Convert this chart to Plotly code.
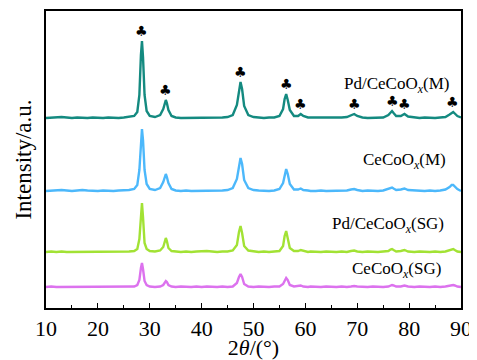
import plotly.graph_objects as go

# 2-theta grid (degrees)
two_theta = [10, 11, 12, 13, 14, 15, 16, 17, 18, 19, 20, 21, 22, 23, 24, 25, 26,
             27, 27.6, 28.0, 28.3, 28.5, 28.7, 29.0, 29.4, 30, 31,
             32, 32.6, 32.9, 33.1, 33.3, 33.6, 34.2,
             35, 36, 37, 38, 39, 40, 41, 42, 43, 44, 45,
             46, 46.8, 47.2, 47.5, 47.8, 48.2, 49,
             50, 51, 52, 53, 54, 55,
             55.7, 56.0, 56.3, 56.6, 57.0, 57.8,
             58.6, 59.1, 59.6, 60.5,
             61, 62, 63, 64, 65, 66, 67, 68,
             68.8, 69.4, 70.0,
             71, 72, 73, 74, 75,
             76.0, 76.4, 76.7, 77.0, 77.5,
             78.4, 79.1, 79.8,
             81, 82, 83, 84, 85, 86, 87,
             87.8, 88.2, 88.5, 88.8, 89.3, 90]

pd_m = [1, 1.5, 2, 2, 1.5, 1, 1.5, 1, 1, 1.5, 1, 1, 1.5, 1, 1, 1.5, 2,
        3, 7, 24, 64, 78, 62, 24, 8, 3, 2,
        4, 10, 17, 19, 16, 9, 3,
        1.5, 1, 1, 1, 1.5, 1, 1.5, 1, 1, 1.5, 2,
        4, 14, 30, 37, 30, 13, 4,
        2, 1.5, 1, 1.5, 1.5, 3,
        10, 20, 25, 19, 9, 3,
        3, 5, 3, 1.5,
        1.5, 1, 1, 1.5, 1, 1, 1.5, 2,
        3.5, 5, 3,
        1.5, 1, 1, 1.5, 1.5,
        4, 7, 8, 6, 3,
        3, 5, 2.5,
        1.5, 1, 1.5, 1, 1, 1.5, 2,
        4.5, 6.5, 7, 5.5, 3, 1.5]

ce_m = [1, 1.5, 1.5, 2, 1.5, 1, 1.5, 2, 1.5, 1, 1, 1.5, 1, 1, 1.5, 1.5, 2,
        3, 7, 22, 52, 63, 52, 22, 8, 3, 2,
        4, 10, 16, 18, 15, 9, 3,
        1.5, 1, 1.5, 1, 1, 1.5, 1, 1, 1.5, 1.5, 2,
        4, 13, 28, 34, 28, 12, 4,
        2, 1.5, 1, 1, 1.5, 3,
        9, 18, 23, 18, 8, 2.5,
        2.5, 3.5, 2, 1.5,
        1, 1, 1.5, 1, 1, 1.5, 1, 1.5,
        2.5, 3, 2,
        1, 1.5, 1, 1, 1.5,
        3, 4, 4.5, 3.5, 2,
        2.5, 3.5, 2,
        1.5, 1, 1, 1.5, 1, 1.5, 2.5,
        5, 7, 7, 5.5, 3, 1]

pd_sg = [1, 1.5, 1, 1.5, 1, 1, 1.5, 1, 1, 1.5, 1, 1, 1.5, 1, 1, 1.5, 1.5,
         2, 4, 14, 40, 50, 36, 10, 4, 2, 1.5,
         2.5, 6, 13, 15, 12, 5, 2,
         1.5, 1, 1.5, 1, 1.5, 2, 2, 1.5, 1, 1.5, 1.5,
         2.5, 8, 21, 27, 20, 7, 2.5,
         1.5, 1, 1.5, 1, 1.5, 2,
         7, 17, 22, 15, 5, 2,
         2, 3, 2, 1,
         1.5, 1, 1, 1.5, 1, 1, 1.5, 1,
         2, 2.5, 1.5,
         1, 1.5, 1, 1, 1.5,
         2, 3.5, 4, 3, 1.5,
         2, 3, 1.5,
         1, 1.5, 1, 1, 1.5, 1, 1.5,
         3, 4, 4, 3, 1.5, 1]

ce_sg = [1, 1.5, 1, 1, 1.5, 1, 1, 1.5, 1, 1, 1.5, 1, 1, 1.5, 1, 1, 1.5,
         1.5, 3, 8, 20, 25, 19, 7, 3, 1.5, 1,
         1.5, 3, 6, 7, 6, 3, 1.5,
         1, 1.5, 1, 1, 1.5, 1, 1.5, 1, 1, 1.5, 1,
         1.5, 5, 11, 14, 11, 4, 1.5,
         1, 1.5, 1, 1, 1.5, 1.5,
         4, 8, 10, 8, 3, 1.5,
         2, 2.5, 1.5, 1,
         1.5, 1, 1, 1.5, 1, 1, 1.5, 1,
         1.5, 2, 1.5,
         1, 1, 1.5, 1, 1,
         1.5, 2.5, 3, 2.5, 1.5,
         1.5, 2.5, 1.5,
         1, 1.5, 1, 1, 1.5, 1, 1.5,
         2, 3, 3, 2.5, 1.5, 1]

series_names = ["Pd/CeCoO<sub><i>x</i></sub>(M)", "CeCoO<sub><i>x</i></sub>(M)",
                "Pd/CeCoO<sub><i>x</i></sub>(SG)", "CeCoO<sub><i>x</i></sub>(SG)"]
series_values = [pd_m, ce_m, pd_sg, ce_sg]
peak_positions = [28.5, 33.1, 47.5, 56.3, 59.1, 69.4, 76.7, 79.1, 88.4]
x_ticks = [10, 20, 30, 40, 50, 60, 70, 80, 90]

for v in series_values:
    assert len(v) == len(two_theta), len(v)

SERIF = "Liberation Serif, Times New Roman, serif"
offsets = [189, 116, 55, 20]
colors = ["#148a80", "#4cb8fb", "#a2e234", "#dc72ee"]
label_y = [223, 147, 83, 38]
label_x = [451, 448, 446, 443]

fig = go.Figure()
for vals, off, col in zip(series_values, offsets, colors):
    fig.add_trace(go.Scatter(x=two_theta, y=[v + off for v in vals], mode="lines",
                             line=dict(color=col, width=2.4), showlegend=False,
                             hoverinfo="skip"))

for name, ly, lx in zip(series_names, label_y, label_x):
    fig.add_annotation(x=(lx - 46) / 415 * 80 + 10, y=ly, text=name, showarrow=False,
                       xanchor="right", yanchor="middle",
                       font=dict(family=SERIF, size=17, color="black"))

for p in peak_positions:
    i = min(range(len(two_theta)), key=lambda k: abs(two_theta[k] - p))
    fig.add_annotation(x=p, y=pd_m[i] + offsets[0], text="♣", showarrow=False,
                       xanchor="center", yanchor="bottom", yshift=0,
                       font=dict(family="DejaVu Sans", size=14, color="black"))

# page body has an 8px margin, so the figure is sized to fit the 477x360 window
fig.update_layout(
    width=469, height=352,
    margin=dict(l=38, r=16, t=3, b=52),
    paper_bgcolor="white", plot_bgcolor="white",
    font=dict(family=SERIF, color="black"),
    xaxis=dict(range=[10, 90], tickvals=x_ticks, ticks="inside", ticklen=5,
               tickwidth=1.2, tickcolor="black",
               minor=dict(tickvals=[15, 25, 35, 45, 55, 65, 75, 85], ticks="inside",
                          ticklen=3, tickcolor="black", tickwidth=1.2),
               showline=True, linecolor="black", linewidth=1.5, mirror=True,
               showgrid=False, zeroline=False, automargin=False,
               tickfont=dict(size=22, family=SERIF, color="black"),
               title=dict(text="2<i>θ</i>/(°)", font=dict(size=22, family=SERIF, color="black"),
                          standoff=0)),
    yaxis=dict(range=[0, 297], showticklabels=False, ticks="",
               showline=True, linecolor="black", linewidth=1.5, mirror=True,
               showgrid=False, zeroline=False, automargin=False,
               title=dict(text="Intensity/a.u.", font=dict(size=23, family=SERIF, color="black"),
                          standoff=6)),
)

fig.write_html("out.html")
